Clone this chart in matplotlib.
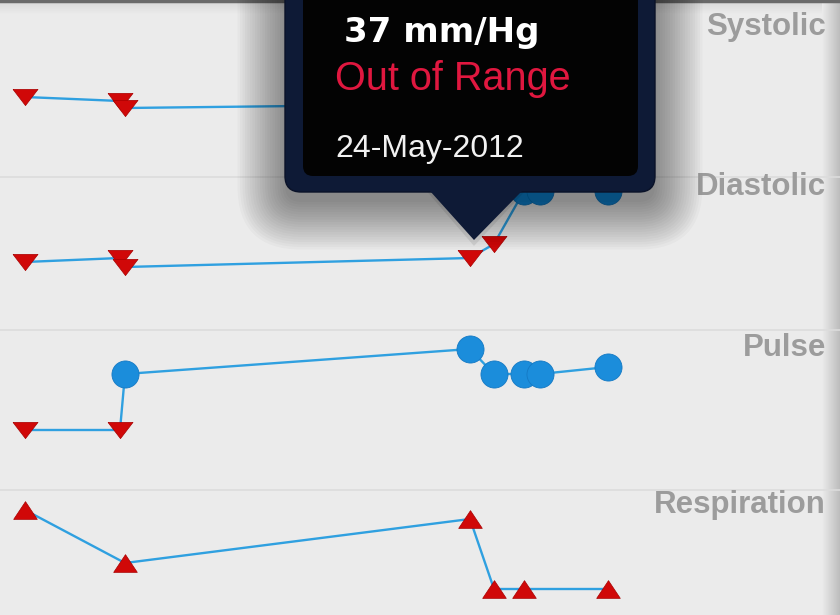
import numpy as np
import matplotlib
matplotlib.use('Agg')
import matplotlib.pyplot as plt
from matplotlib.patches import FancyBboxPatch, Polygon
from matplotlib.path import Path
from matplotlib.colors import LinearSegmentedColormap

plt.rcParams['font.family'] = ['Liberation Sans', 'DejaVu Sans']

# readings, x = time position of each reading, y = position inside the chart
sys_x = [25, 120, 125, 470, 494, 524, 540, 608]
sys_y = [97, 101, 108, 104, 95, 45, 45, 45]
sys_state = ['low', 'low', 'low', 'low', 'low', 'ok', 'ok', 'ok']

dia_x = [25, 120, 125, 470, 494, 524, 540, 608]
dia_y = [262, 258, 267, 258, 244, 191, 191, 191]
dia_state = ['low', 'low', 'low', 'low', 'low', 'ok', 'ok', 'ok']

pul_x = [25, 120, 125, 470, 494, 524, 540, 608]
pul_y = [430, 430, 374, 349, 374, 374, 374, 367]
pul_state = ['low', 'low', 'ok', 'ok', 'ok', 'ok', 'ok', 'ok']

resp_x = [25, 125, 470, 494, 524, 608]
resp_y = [510, 563, 519, 589, 589, 589]
resp_state = ['high', 'high', 'high', 'high', 'high', 'high']

labels = ['Systolic', 'Diastolic', 'Pulse', 'Respiration']
label_base = [35, 195, 356, 513]
band_lines = [177, 330, 490]

tip_value = '37 mm/Hg'
tip_status = 'Out of Range'
tip_date = '24-May-2012'
tip_x = 470
tip_y = 258

# marker shapes
down_tri = Path([(-1, 0.65), (1, 0.65), (0, -0.65), (-1, 0.65)])
up_tri = Path([(-1, -0.75), (1, -0.75), (0, 0.75), (-1, -0.75)])

fig = plt.figure(figsize=(8.4, 6.15), dpi=100)
fig.patch.set_facecolor('#ebebeb')
ax = fig.add_axes([0, 0, 1, 1])
ax.set_xlim(0, 840)
ax.set_ylim(615, 0)
ax.axis('off')

# right edge shading
grad = np.linspace(0, 1, 50).reshape(1, -1)
ax.imshow(grad, extent=[822, 840, 615, 0], cmap=LinearSegmentedColormap.from_list('e', ['#ebebeb', '#bdbdbd']),
          aspect='auto', zorder=0)
# top shading
grad2 = np.linspace(0, 1, 50).reshape(-1, 1)
ax.imshow(grad2, extent=[0, 822, 14, 0], cmap=LinearSegmentedColormap.from_list('t', ['#d6d6d6', '#ebebeb']),
          aspect='auto', zorder=0)
ax.axhline(1, color='#6a6a6a', lw=2.5, zorder=1)

for yb in band_lines:
    ax.axhline(yb, color='#dcdcdc', lw=1.2, zorder=1)

for lab, ly in zip(labels, label_base):
    ax.text(826, ly, lab, ha='right', va='baseline', fontsize=22.5, fontweight='bold', color='#9c9c9c', zorder=2)

def draw_series(xs, ys, states):
    ax.plot(xs, ys, color='#2fa0e0', lw=1.7, zorder=3)
    for x, y, s in zip(xs, ys, states):
        if s == 'ok':
            ax.plot(x, y, marker='o', ms=19.5, color='#1b8ddb', mec='#1479c4', mew=0.6, zorder=4)
        elif s == 'low':
            ax.plot(x, y, marker=down_tri, ms=18, color='#d00808', mec='#a80000', mew=0.5, zorder=4)
        else:
            ax.plot(x, y, marker=up_tri, ms=17, color='#d00808', mec='#a80000', mew=0.5, zorder=4)

draw_series(sys_x, sys_y, sys_state)
draw_series(dia_x, dia_y, dia_state)
draw_series(pul_x, pul_y, pul_state)
draw_series(resp_x, resp_y, resp_state)

# tooltip shadow
for i in range(20):
    grow = 2.5 * i
    sh = FancyBboxPatch((285 - grow, -40 - grow + 10), 370 + 2 * grow, 232 + 2 * grow,
                        boxstyle='round,pad=0,rounding_size=%d' % (16 + grow),
                        fc='black', ec='none', alpha=0.022, zorder=5)
    ax.add_patch(sh)
ax.add_patch(Polygon([(424, 188), (528, 188), (tip_x + 4, tip_y - 12)], closed=True,
                     fc='black', ec='none', alpha=0.08, zorder=5))

# tooltip body
ax.add_patch(FancyBboxPatch((285, -40), 370, 232, boxstyle='round,pad=0,rounding_size=16',
                            fc='#0e1a36', ec='#0a1228', lw=1, zorder=6))
ax.add_patch(Polygon([(430, 191), (522, 191), (tip_x + 4, tip_y - 18)], closed=True,
                     fc='#0e1a36', ec='none', zorder=6))
ax.add_patch(FancyBboxPatch((303, -40), 335, 216, boxstyle='round,pad=0,rounding_size=10',
                            fc='#030303', ec='none', zorder=7))

ax.text(344, 42, tip_value, ha='left', va='baseline', fontsize=24.5, fontweight='bold',
        family='DejaVu Sans', color='white', zorder=8)
ax.text(335, 90, tip_status, ha='left', va='baseline', fontsize=28.5, color='#e0173f', zorder=8)
ax.text(335, 157, tip_date, ha='left', va='baseline', fontsize=23, color='#f2f2f2', zorder=8)

plt.savefig('out.png', dpi=100, facecolor=fig.get_facecolor())
